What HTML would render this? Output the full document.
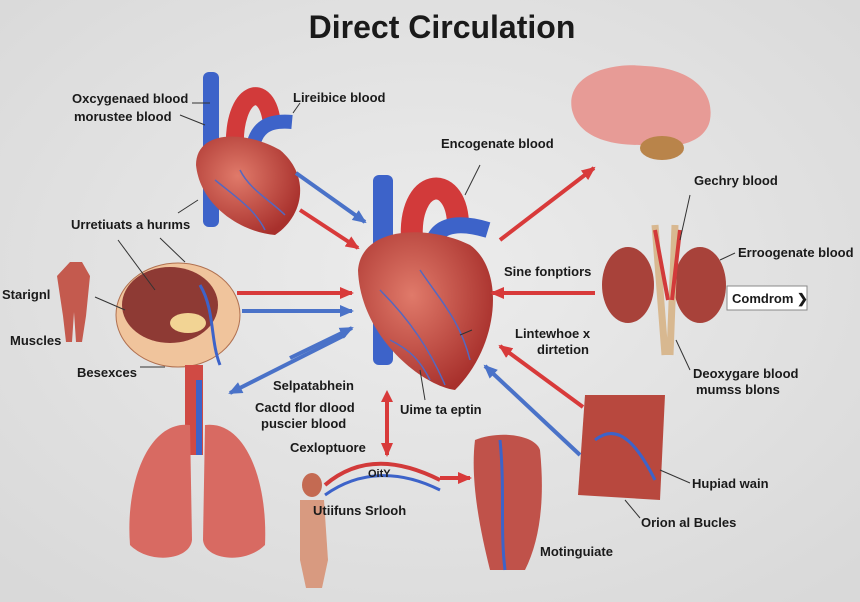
<!DOCTYPE html>
<html><head><meta charset="utf-8"><style>
html,body{margin:0;padding:0;background:#e4e4e4;}
svg{display:block}
text{font-family:"Liberation Sans",sans-serif;fill:#1a1a1a;font-size:13px;font-weight:bold}
</style></head><body>
<svg width="860" height="602" viewBox="0 0 860 602">
<defs>
<radialGradient id="bg" cx="50%" cy="45%" r="70%"><stop offset="0" stop-color="#ececec"/><stop offset="1" stop-color="#d9d9d9"/></radialGradient>
<radialGradient id="ht" cx="40%" cy="40%" r="65%"><stop offset="0" stop-color="#e07a6a"/><stop offset="1" stop-color="#a8302c"/></radialGradient>
<marker id="ar" markerUnits="userSpaceOnUse" markerWidth="14" markerHeight="12" refX="12" refY="6" orient="auto"><path d="M0,0 L14,6 L0,12z" fill="#d83a3a"/></marker>
<marker id="ab" markerUnits="userSpaceOnUse" markerWidth="14" markerHeight="12" refX="12" refY="6" orient="auto"><path d="M0,0 L14,6 L0,12z" fill="#4a72c8"/></marker>
</defs>
<rect width="860" height="602" fill="url(#bg)"/>
<text x="442" y="38" text-anchor="middle" style="font-size:32px">Direct Circulation</text>

<!-- top-left heart -->
<rect x="203" y="72" width="16" height="155" rx="6" fill="#3d63c9"/>
<path d="M235,150 C232,90 268,78 272,125" stroke="#d23a3a" stroke-width="18" fill="none"/>
<path d="M252,165 C250,125 270,120 292,122" stroke="#3d63c9" stroke-width="14" fill="none"/>
<path d="M196,165 C196,130 245,130 280,150 C310,175 305,215 275,235 C240,232 200,205 196,165z" fill="url(#ht)"/>
<path d="M215,180 C240,200 255,210 265,230 M240,170 C250,190 270,200 285,215" stroke="#5468c0" stroke-width="1.5" fill="none"/>
<!-- central heart -->
<rect x="373" y="175" width="20" height="190" rx="6" fill="#3d63c9"/>
<path d="M412,240 C408,178 455,172 458,222" stroke="#d23a3a" stroke-width="22" fill="none"/>
<path d="M432,255 C430,225 455,220 488,230" stroke="#3d63c9" stroke-width="16" fill="none"/>
<path d="M358,270 C362,225 430,225 470,245 C505,270 500,345 455,390 C420,385 360,335 358,270z" fill="url(#ht)"/>
<path d="M380,290 C410,320 430,350 445,385 M420,270 C440,300 460,320 470,360 M390,340 C410,350 420,360 430,380" stroke="#5468c0" stroke-width="1.5" fill="none"/>
<!-- brain -->
<path d="M572,110 C565,75 610,62 645,66 C690,68 715,90 710,120 C705,145 670,150 640,145 C605,145 578,135 572,110z" fill="#e79b96"/>
<ellipse cx="662" cy="148" rx="22" ry="12" fill="#b9844a"/>
<!-- kidneys -->
<ellipse cx="628" cy="285" rx="26" ry="38" fill="#a8423a"/>
<ellipse cx="700" cy="285" rx="26" ry="38" fill="#a8423a"/>
<path d="M655,225 L665,355 M675,225 L670,355" stroke="#d8b890" stroke-width="7"/>
<path d="M655,230 L668,300 M680,230 L672,300" stroke="#d23a3a" stroke-width="4"/>
<rect x="727" y="286" width="80" height="24" fill="#fff" stroke="#888"/>
<!-- stomach organ -->
<ellipse cx="178" cy="315" rx="62" ry="52" fill="#f0c49c" stroke="#b07050"/>
<ellipse cx="170" cy="305" rx="48" ry="38" fill="#8e3a34"/>
<ellipse cx="188" cy="323" rx="18" ry="10" fill="#f2d494"/>
<path d="M200,285 C215,310 210,340 220,365" stroke="#3d63c9" stroke-width="3" fill="none"/>
<!-- figure -->
<path d="M70,262 h12 l8,14 l-4,40 l-4,26 h-6 l-2,-30 l-2,30 h-6 l-3,-26 l-6,-40z" fill="#c45a4e"/>
<!-- lungs -->
<rect x="185" y="365" width="18" height="90" fill="#d04a44"/>
<rect x="196" y="380" width="6" height="75" fill="#3d63c9"/>
<path d="M190,425 C150,420 125,480 130,545 C150,565 190,560 192,540z" fill="#d86a62"/>
<path d="M205,425 C245,420 268,480 265,545 C245,565 205,560 203,540z" fill="#d86a62"/>
<!-- muscle bottom right -->
<path d="M585,395 L665,395 L660,500 L578,495z" fill="#b8483e"/>
<path d="M595,440 C620,420 640,450 655,480" stroke="#3d63c9" stroke-width="3" fill="none"/>
<!-- leg -->
<path d="M475,440 C500,430 535,435 540,450 C545,500 540,540 525,570 L490,570 C480,530 470,480 475,440z" fill="#c0524a"/>
<path d="M500,440 C505,490 500,530 505,570" stroke="#3d63c9" stroke-width="3" fill="none"/>
<!-- child + vessel -->
<ellipse cx="312" cy="485" rx="10" ry="12" fill="#c46a52"/>
<path d="M300,500 h24 l4,60 l-6,28 h-16 l-6,-28z" fill="#d89a80"/>
<path d="M325,485 C360,455 400,460 440,480" stroke="#d23a3a" stroke-width="4" fill="none"/>
<path d="M325,495 C360,470 400,470 440,490" stroke="#3d63c9" stroke-width="3" fill="none"/>

<!-- arrows -->
<g stroke-width="4" fill="none">
<line x1="296" y1="173" x2="365" y2="222" stroke="#4a72c8" marker-end="url(#ab)"/>
<line x1="300" y1="210" x2="358" y2="248" stroke="#d83a3a" marker-end="url(#ar)"/>
<line x1="237" y1="293" x2="352" y2="293" stroke="#d83a3a" marker-end="url(#ar)"/>
<line x1="242" y1="311" x2="352" y2="311" stroke="#4a72c8" marker-end="url(#ab)"/>
<line x1="290" y1="358" x2="352" y2="328" stroke="#4a72c8" marker-end="url(#ab)"/>
<line x1="345" y1="335" x2="230" y2="393" stroke="#4a72c8" marker-end="url(#ab)"/>
<line x1="500" y1="240" x2="594" y2="168" stroke="#d83a3a" marker-end="url(#ar)"/>
<line x1="595" y1="293" x2="492" y2="293" stroke="#d83a3a" marker-end="url(#ar)"/>
<line x1="583" y1="407" x2="500" y2="346" stroke="#d83a3a" marker-end="url(#ar)"/>
<line x1="580" y1="455" x2="485" y2="366" stroke="#4a72c8" marker-end="url(#ab)"/>
<line x1="387" y1="398" x2="387" y2="455" stroke="#d83a3a" marker-end="url(#ar)"/>
<line x1="440" y1="478" x2="470" y2="478" stroke="#d83a3a" marker-end="url(#ar)"/>
</g>
<path d="M387,390 l-6,12 h12z" fill="#d83a3a"/>

<!-- label lines -->
<g stroke="#333" stroke-width="1">
<line x1="192" y1="103" x2="210" y2="103"/><line x1="180" y1="115" x2="205" y2="125"/>
<line x1="300" y1="103" x2="293" y2="113"/><line x1="178" y1="213" x2="198" y2="200"/>
<line x1="118" y1="240" x2="155" y2="290"/><line x1="160" y1="238" x2="185" y2="262"/>
<line x1="95" y1="297" x2="125" y2="310"/><line x1="140" y1="367" x2="165" y2="367"/>
<line x1="480" y1="165" x2="465" y2="195"/><line x1="690" y1="195" x2="680" y2="240"/>
<line x1="735" y1="253" x2="720" y2="260"/><line x1="690" y1="370" x2="676" y2="340"/>
<line x1="460" y1="335" x2="472" y2="330"/><line x1="420" y1="370" x2="425" y2="400"/>
<line x1="690" y1="483" x2="660" y2="470"/><line x1="640" y1="518" x2="625" y2="500"/>
</g>

<!-- labels -->
<text x="72" y="103">Oxcygenaed blood</text>
<text x="74" y="121">morustee blood</text>
<text x="293" y="102">Lireibice blood</text>
<text x="71" y="229">Urretiuats a hurıms</text>
<text x="2" y="299">Starignl</text>
<text x="10" y="345">Muscles</text>
<text x="77" y="377">Besexces</text>
<text x="441" y="148">Encogenate blood</text>
<text x="694" y="185">Gechry blood</text>
<text x="738" y="257">Erroogenate blood</text>
<text x="504" y="276">Sine fonptiors</text>
<text x="732" y="303">Comdrom ❯</text>
<text x="515" y="338">Lintewhoe x</text>
<text x="537" y="354">dirtetion</text>
<text x="693" y="378">Deoxygare blood</text>
<text x="696" y="394">mumss blons</text>
<text x="273" y="390">Selpatabhein</text>
<text x="255" y="412">Cactd flor dlood</text>
<text x="261" y="428">puscier blood</text>
<text x="400" y="414">Uime ta eptin</text>
<text x="290" y="452">Cexloptuore</text>
<text x="368" y="477" style="font-size:11px">OitY</text>
<text x="313" y="515">Utiifuns Srlooh</text>
<text x="692" y="488">Hupiad wain</text>
<text x="641" y="527">Orion al Bucles</text>
<text x="540" y="556">Motinguiate</text>
</svg>
</body></html>
